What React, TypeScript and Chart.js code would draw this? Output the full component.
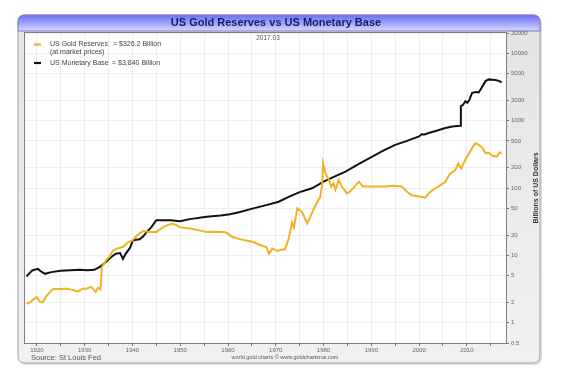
import { useEffect, useRef } from "react";
import { Chart, registerables } from "chart.js";

Chart.register(...registerables);

const FONT = '"Liberation Sans", Arial, Helvetica, sans-serif';

const chartTitle = "US Gold Reserves vs US Monetary Base";
const dateLabel = "2017.03";
const goldLabel = "US Gold Reserves";
const goldNote = "(at market prices)";
const goldValueText = "= $326.2 Billion";
const baseLabel = "US Monetary Base";
const baseValueText = "= $3,840 Billion";
const yAxisTitle = "Billions of US Dollars";
const sourceText = "Source: St Louis Fed";
const creditText = "world gold charts \u00A9 www.goldchartsrus.com";

const goldColor = "#f0b323";
const baseColor = "#111111";

const yTickValues = [0.5, 1, 2, 5, 10, 20, 50, 100, 200, 500, 1000, 2000, 5000, 10000, 20000];
const xTickYears = [1920, 1925, 1930, 1935, 1940, 1945, 1950, 1955, 1960, 1965, 1970, 1975, 1980, 1985, 1990, 1995, 2000, 2005, 2010, 2015];

const goldYears = [
  1917.8, 1918.5, 1919.2, 1920, 1920.6, 1921.2, 1922, 1923, 1923.6, 1924.5, 1925.5, 1926.2, 1927.2, 1928.6,
  1929.5, 1930.3, 1931.4, 1932.3, 1932.8, 1933.3, 1933.6, 1934.5, 1935.2, 1936, 1937, 1938, 1939, 1940,
  1941, 1942.2, 1943.5, 1945, 1946.5, 1948.2, 1949.3, 1949.9, 1952, 1954, 1955.5, 1957, 1959.5, 1961,
  1963, 1965.3, 1967, 1968, 1968.6, 1969.3, 1970.3, 1971.2, 1971.9, 1972.7, 1973.4, 1973.8, 1974.5,
  1975.5, 1976.6, 1977.4, 1978.3, 1979.3, 1979.7, 1979.9, 1980.4, 1981.1, 1981.6, 1982.1, 1982.5, 1983.2,
  1983.8, 1984.9, 1985.5, 1986.5, 1987.4, 1988.2, 1989.5, 1991.5, 1993, 1994.5, 1996.4, 1997.5, 1998.5,
  2000, 2001.3, 2002, 2003, 2004, 2005.5, 2006.4, 2007.6, 2008.2, 2008.8, 2009.7, 2010.5, 2011.3, 2011.8,
  2012.5, 2013.2, 2013.9, 2014.6, 2015.3, 2016.3, 2016.8, 2017.3,
];
const goldValues = [
  1.9, 2.0, 2.2, 2.4, 2.05, 2.0, 2.5, 3.0, 3.2, 3.15, 3.2, 3.2, 3.1, 2.9,
  3.2, 3.2, 3.4, 2.85, 3.3, 3.1, 6.7, 8.5, 9.6, 11.9, 12.8, 13.3, 15.5, 16.8,
  19.9, 23, 22.3, 22.3, 26.5, 29.7, 28, 26, 25, 23.5, 22.3, 22.5, 22, 18.7,
  17, 15.8, 14, 13.3, 10.6, 12.6, 11.6, 12.2, 12.2, 17.7, 31, 26, 49.8,
  44, 29.7, 40, 55, 74, 110, 234, 166, 132, 105, 117, 95, 132,
  105, 83, 88, 105, 124, 105, 105, 105, 105, 108, 105, 88, 78,
  75, 72, 83, 95, 105, 124, 160, 186, 230, 195, 262, 330, 413, 464,
  437, 400, 330, 330, 300, 293, 336, 326,
];

const baseYears = [
  1917.8, 1918.5, 1919, 1920.2, 1920.8, 1921.7, 1923, 1925, 1927, 1929, 1930.5, 1932, 1933.1, 1934,
  1935.5, 1936.5, 1937.4, 1938, 1938.6, 1939.5, 1940.1, 1941.5, 1942.2, 1943, 1944, 1945, 1946.5, 1948,
  1950, 1952, 1955.5, 1958.5, 1960.4, 1962.5, 1965.3, 1968, 1970.6, 1972.7, 1975, 1977.6, 1980, 1982.5,
  1984.6, 1987.5, 1990.2, 1992.5, 1995, 1997.5, 2000, 2000.6, 2001, 2002, 2004, 2005.5, 2007, 2008.6,
  2008.75, 2009.2, 2009.7, 2010.1, 2010.5, 2011.1, 2012, 2012.5, 2013, 2013.9, 2014.6, 2015.3, 2016,
  2016.7, 2017.3,
];
const baseValues = [
  4.86, 5.5, 5.97, 6.3, 5.8, 5.32, 5.64, 5.9, 6.0, 6.1, 6.0, 6.1, 6.7, 7.5,
  9.4, 10.6, 10.8, 8.9, 10.6, 13, 16.8, 17.3, 19, 22.3, 26.5, 33.3, 33.3, 33.3,
  32.2, 34.5, 37.4, 39.1, 40.9, 44, 49.8, 55.7, 62.5, 74, 87, 99, 124, 150,
  175, 230, 293, 360, 437, 500, 583, 632, 620, 655, 720, 778, 820, 841,
  1633, 1720, 1940, 1835, 2000, 2590, 2650, 2620, 3000, 3860, 4095, 4050, 4000,
  3900, 3700,
];

function roundedPath(ctx: CanvasRenderingContext2D, x: number, y: number, w: number, h: number, rt: number, rb: number) {
  ctx.beginPath();
  ctx.moveTo(x + rt, y);
  ctx.lineTo(x + w - rt, y);
  ctx.quadraticCurveTo(x + w, y, x + w, y + rt);
  ctx.lineTo(x + w, y + h - rb);
  ctx.quadraticCurveTo(x + w, y + h, x + w - rb, y + h);
  ctx.lineTo(x + rb, y + h);
  ctx.quadraticCurveTo(x, y + h, x, y + h - rb);
  ctx.lineTo(x, y + rt);
  ctx.quadraticCurveTo(x, y, x + rt, y);
  ctx.closePath();
}

const decorPlugin = {
  id: "decor",
  beforeDraw(chart: any) {
    const ctx: CanvasRenderingContext2D = chart.ctx;
    const { left, top, right, bottom } = chart.chartArea;
    ctx.save();
    // shadow
    roundedPath(ctx, 20, 17, 522, 348, 7, 7);
    ctx.fillStyle = "rgba(0,0,0,0.12)";
    ctx.fill();
    // panel
    roundedPath(ctx, 18, 15, 522, 348, 7, 7);
    const g = ctx.createLinearGradient(0, 15, 0, 363);
    g.addColorStop(0, "#e3e3e3");
    g.addColorStop(1, "#f1f1f1");
    ctx.fillStyle = g;
    ctx.fill();
    ctx.strokeStyle = "#a0a0a0";
    ctx.lineWidth = 1;
    ctx.stroke();
    // title bar
    roundedPath(ctx, 18, 15, 522, 16, 7, 0);
    const tg = ctx.createLinearGradient(0, 15, 0, 31);
    tg.addColorStop(0, "#6a6ef0");
    tg.addColorStop(1, "#d6d8ff");
    ctx.fillStyle = tg;
    ctx.fill();
    ctx.strokeStyle = "#7a7ccc";
    ctx.stroke();
    // title
    ctx.fillStyle = "#1a1a6a";
    ctx.font = `bold 11px ${FONT}`;
    ctx.textAlign = "center";
    ctx.textBaseline = "middle";
    ctx.fillText(chartTitle, 276, 23);
    // plot background
    ctx.fillStyle = "#ffffff";
    ctx.fillRect(left, top, right - left, bottom - top);
    ctx.restore();
  },
  afterDraw(chart: any) {
    const ctx: CanvasRenderingContext2D = chart.ctx;
    const { left, top, right, bottom } = chart.chartArea;
    ctx.save();
    // plot border
    ctx.strokeStyle = "#808080";
    ctx.lineWidth = 1;
    ctx.strokeRect(left - 0.5, top - 0.5, right - left + 1, bottom - top + 1);
    // date label
    ctx.fillStyle = "#555";
    ctx.font = `6.5px ${FONT}`;
    ctx.textAlign = "center";
    ctx.textBaseline = "middle";
    ctx.fillText(dateLabel, 268, 38.5);
    // legend
    ctx.lineWidth = 2.2;
    ctx.strokeStyle = goldColor;
    ctx.beginPath();
    ctx.moveTo(34, 44.5);
    ctx.lineTo(41, 44.5);
    ctx.stroke();
    ctx.strokeStyle = baseColor;
    ctx.beginPath();
    ctx.moveTo(34, 63);
    ctx.lineTo(41, 63);
    ctx.stroke();
    ctx.fillStyle = "#444";
    ctx.font = `7px ${FONT}`;
    ctx.textAlign = "left";
    ctx.fillText(goldLabel, 50, 44.5);
    ctx.fillText(goldValueText, 113, 44.5);
    ctx.fillText(goldNote, 50, 52.5);
    ctx.fillText(baseLabel, 50, 63);
    ctx.fillText(baseValueText, 112, 63);
    // y axis title
    ctx.save();
    ctx.translate(536, (top + bottom) / 2);
    ctx.rotate(-Math.PI / 2);
    ctx.fillStyle = "#333";
    ctx.font = `bold 7px ${FONT}`;
    ctx.textAlign = "center";
    ctx.fillText(yAxisTitle, 0, 0);
    ctx.restore();
    // footer
    ctx.fillStyle = "#555";
    ctx.font = `7.5px ${FONT}`;
    ctx.textAlign = "left";
    ctx.fillText(sourceText, 31, 357.5);
    ctx.font = `5.5px ${FONT}`;
    ctx.textAlign = "center";
    ctx.fillText(creditText, 285, 357);
    ctx.restore();
  },
};

export default function App() {
  const ref = useRef<HTMLCanvasElement | null>(null);
  useEffect(() => {
    if (!ref.current) return;
    const gold = goldYears.map((x, i) => ({ x, y: goldValues[i] }));
    const base = baseYears.map((x, i) => ({ x, y: baseValues[i] }));
    const chart = new Chart(ref.current, {
      type: "line",
      data: {
        datasets: [
          {
            label: goldLabel,
            data: gold,
            borderColor: goldColor,
            backgroundColor: goldColor,
            borderWidth: 2,
            pointRadius: 0,
            tension: 0,
          },
          {
            label: baseLabel,
            data: base,
            borderColor: baseColor,
            backgroundColor: baseColor,
            borderWidth: 2,
            pointRadius: 0,
            tension: 0,
          },
        ],
      },
      options: {
        animation: false,
        responsive: false,
        maintainAspectRatio: false,
        layout: { padding: { left: 25, top: 33, right: 28, bottom: 19 } },
        plugins: {
          legend: { display: false },
          title: { display: false },
          tooltip: { enabled: false },
        },
        scales: {
          x: {
            type: "linear",
            min: 1917.5,
            max: 2018.2,
            afterBuildTicks: (scale: any) => {
              scale.ticks = xTickYears.map((v) => ({ value: v }));
            },
            afterFit: (scale: any) => {
              scale.height = 14;
            },
            ticks: {
              autoSkip: false,
              maxRotation: 0,
              padding: 1,
              color: "#666",
              font: { family: FONT, size: 6 },
              callback: (v: any) => (Number(v) % 10 === 0 ? String(v) : ""),
            },
            grid: { color: "#eeeeee", tickColor: "#777", tickLength: 3, lineWidth: 1 },
            border: { display: true, color: "#808080" },
          },
          y: {
            type: "logarithmic",
            position: "right",
            min: 0.5,
            max: 20000,
            afterBuildTicks: (scale: any) => {
              scale.ticks = yTickValues.map((v) => ({ value: v }));
            },
            afterFit: (scale: any) => {
              scale.width = 34;
            },
            ticks: {
              autoSkip: false,
              padding: 2,
              color: "#666",
              font: { family: FONT, size: 6 },
              callback: (v: any) => String(v),
            },
            grid: { color: "#eeeeee", tickColor: "#777", tickLength: 3, lineWidth: 1 },
            border: { display: true, color: "#808080" },
          },
        },
      },
      plugins: [decorPlugin],
    } as any);
    return () => chart.destroy();
  }, []);
  return (
    <div style={{ position: "fixed", left: 0, top: 0, width: 568, height: 376, background: "#fff" }}>
      <canvas ref={ref} width={568} height={376} style={{ width: 568, height: 376, display: "block" }} />
    </div>
  );
}
